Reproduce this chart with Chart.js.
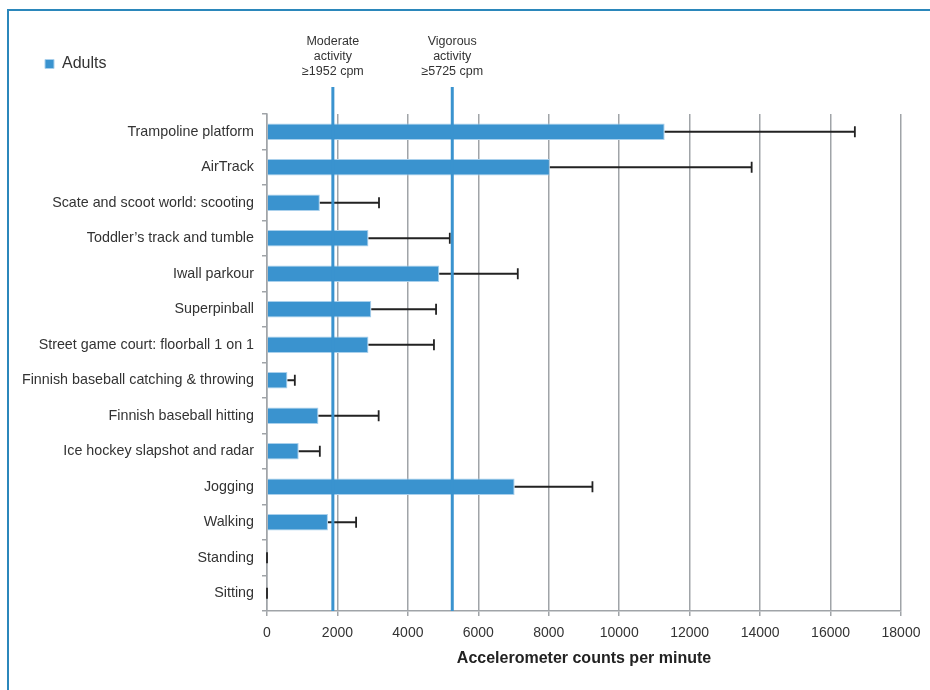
<!DOCTYPE html>
<html>
<head>
<meta charset="utf-8">
<script src="https://cdn.jsdelivr.net/npm/chart.js@4"></script>
<style>
  html, body { margin: 0; padding: 0; background: #fff; }
  #wrap { position: relative; width: 930px; height: 690px; }
  #frame {
    position: absolute; left: 7px; top: 9px; right: 0; bottom: 0;
    border-left: 2px solid #2b87bb; border-top: 2px solid #2b87bb;
    pointer-events: none;
  }
  canvas { position: absolute; left: 0; top: 0; }
</style>
</head>
<body>
<div id="wrap">
  <canvas id="chart" width="930" height="690"></canvas>
  <div id="frame"></div>
</div>
<script>
// activities, mean counts per minute and the SD shown as the error bar
const activities = [
  "Trampoline platform",
  "AirTrack",
  "Scate and scoot world: scooting",
  "Toddler\u2019s track and tumble",
  "Iwall parkour",
  "Superpinball",
  "Street game court: floorball 1 on 1",
  "Finnish baseball catching & throwing",
  "Finnish baseball hitting",
  "Ice hockey slapshot and radar",
  "Jogging",
  "Walking",
  "Standing",
  "Sitting"
];
const meanCounts = [11290, 8030, 1500, 2880, 4890, 2960, 2880, 580, 1460, 900, 7030, 1730, 0, 0];
const sdCounts = [5400, 5730, 1680, 2310, 2230, 1840, 1860, 210, 1710, 600, 2210, 800, 0, 0];
const seriesName = "Adults";

// cut-off lines (placed where the picture draws them) and their captions
const thresholdValues = [1870, 5260];
const thresholdLabels = [
  ["Moderate", "activity", "\u22651952 cpm"],
  ["Vigorous", "activity", "\u22655725 cpm"]
];

const xTicks = { min: 0, max: 18000, step: 2000 };

const blue = "#3a93cf";
const gridGray = "#a0a4a8";
const textColor = "#333333";
const font = "'Liberation Sans', Arial, sans-serif";

const errorBars = {
  id: "errorBars",
  afterDatasetsDraw(chart) {
    const ctx = chart.ctx;
    const x = chart.scales.x;
    const meta = chart.getDatasetMeta(0);
    ctx.save();
    ctx.strokeStyle = "#222";
    ctx.lineWidth = 1.8;
    meta.data.forEach((bar, i) => {
      const x0 = x.getPixelForValue(meanCounts[i]);
      const x1 = x.getPixelForValue(meanCounts[i] + sdCounts[i]);
      const y = bar.y;
      ctx.beginPath();
      ctx.moveTo(x0, y);
      ctx.lineTo(x1, y);
      ctx.moveTo(x1, y - 5.5);
      ctx.lineTo(x1, y + 5.5);
      ctx.stroke();
    });
    ctx.restore();
  }
};

const thresholds = {
  id: "thresholds",
  afterDatasetsDraw(chart) {
    const ctx = chart.ctx;
    const x = chart.scales.x;
    const area = chart.chartArea;
    ctx.save();
    thresholdValues.forEach((v, i) => {
      const px = x.getPixelForValue(v);
      ctx.strokeStyle = blue;
      ctx.lineWidth = 3;
      ctx.beginPath();
      ctx.moveTo(px, area.top - 27);
      ctx.lineTo(px, area.bottom);
      ctx.stroke();
      ctx.fillStyle = textColor;
      ctx.font = "12.5px " + font;
      ctx.textAlign = "center";
      ctx.textBaseline = "middle";
      thresholdLabels[i].forEach((line, j) => {
        ctx.fillText(line, px, area.top - 72 + j * 15);
      });
    });
    ctx.restore();
  }
};

// leave room between the legend and the plot for the threshold captions
const legendSpace = {
  id: "legendSpace",
  beforeLayout(chart) {
    const lg = chart.legend;
    if (lg && !lg._spaced) {
      const fit = lg.fit;
      lg.fit = function () {
        fit.call(this);
        this.height += 32;
      };
      lg._spaced = true;
    }
  }
};

const ctx = document.getElementById("chart").getContext("2d");
const chart = new Chart(ctx, {
  type: "bar",
  data: {
    labels: activities,
    datasets: [{
      label: seriesName,
      data: meanCounts,
      backgroundColor: blue,
      borderColor: "#a9d0ec",
      borderWidth: 1,
      barPercentage: 0.92,
      categoryPercentage: 0.5
    }]
  },
  options: {
    indexAxis: "y",
    responsive: false,
    animation: false,
    layout: { padding: { left: 5, right: 29, top: 16, bottom: 18 } },
    plugins: {
      legend: {
        position: "top",
        align: "start",
        labels: {
          boxWidth: 9,
          boxHeight: 9,
          padding: 40,
          color: textColor,
          font: { family: font, size: 16 }
        }
      },
      tooltip: { enabled: false }
    },
    scales: {
      x: {
        min: xTicks.min,
        max: xTicks.max,
        ticks: {
          stepSize: xTicks.step,
          padding: 9,
          color: textColor,
          font: { family: font, size: 14 },
          callback: (v) => String(v)
        },
        grid: { color: gridGray, lineWidth: 1.5, tickLength: 5 },
        border: { color: gridGray, width: 1.5 },
        title: {
          display: true,
          text: "Accelerometer counts per minute",
          color: "#222",
          padding: { top: -2, bottom: 4 },
          font: { family: font, size: 16, weight: "bold" }
        }
      },
      y: {
        afterFit(scale) { scale.width = 262; },
        ticks: {
          padding: 8,
          color: textColor,
          font: { family: font, size: 14.3 }
        },
        grid: { drawOnChartArea: false, color: gridGray, lineWidth: 1.5, tickLength: 5 },
        border: { color: gridGray, width: 1.5 }
      }
    }
  },
  plugins: [errorBars, thresholds, legendSpace]
});
</script>
</body>
</html>
